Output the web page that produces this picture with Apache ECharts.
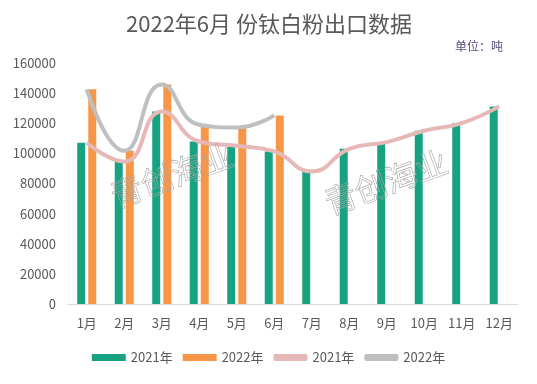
<!DOCTYPE html>
<html><head><meta charset="utf-8">
<script src="https://cdn.jsdelivr.net/npm/echarts@6/dist/echarts.min.js"></script>
<style>html,body{margin:0;padding:0;background:#fff}#c{width:537px;height:384px}</style>
</head><body><div id="c"></div>
<script>
const categories = ['1月','2月','3月','4月','5月','6月','7月','8月','9月','10月','11月','12月'];
const data2021 = [107000, 94500, 127800, 107900, 105000, 101300, 88000, 103000, 107500, 115000, 120100, 131200];
const data2022 = [142500, 101700, 145800, 119000, 117200, 125200, null, null, null, null, null, null];
const yTicks = [0, 20000, 40000, 60000, 80000, 100000, 120000, 140000, 160000];
const seriesNames = ['2021年', '2022年'];

const font = '"Microsoft YaHei","Noto Sans CJK SC",sans-serif';
const chart = echarts.init(document.getElementById('c'));
chart.setOption({
  animation: false,
  textStyle: {fontFamily: font},
  title: {
    text: '2022年6月 份钛白粉出口数据', left: 121, top: 8,
    textStyle: {fontSize: 22, fontWeight: 'normal', color: '#595959', fontFamily: font}
  },
  graphic: [
    {type: 'text', left: 455, top: 40, style: {text: '单位：吨', fontSize: 12, fill: '#5b4a7a', fontFamily: font}},
    {type: 'text', x: 172, y: 175, rotation: 20 * Math.PI / 180, z: 100,
     style: {text: '青创海业', fontSize: 32, fill: 'rgba(255,255,255,0)', stroke: '#a6a6a6', lineWidth: 0.6, align: 'center', verticalAlign: 'middle', fontFamily: font}},
    {type: 'text', x: 386, y: 182, rotation: 20 * Math.PI / 180, z: 100,
     style: {text: '青创海业', fontSize: 32, fill: 'rgba(255,255,255,0)', stroke: '#a6a6a6', lineWidth: 0.6, align: 'center', verticalAlign: 'middle', fontFamily: font}}
  ],
  legend: {
    bottom: 15, left: 'center', itemGap: 10, itemWidth: 34, itemHeight: 7,
    textStyle: {fontSize: 13, color: '#595959'},
    data: [
      {name: seriesNames[0], icon: 'rect'},
      {name: seriesNames[1], icon: 'rect'},
      {name: seriesNames[0] + ' ', icon: 'roundRect'},
      {name: seriesNames[1] + ' ', icon: 'roundRect'}
    ],
    formatter: n => n.trim()
  },
  grid: {left: 68, right: 19, top: 63, bottom: 80},
  xAxis: {
    type: 'category', data: categories,
    axisLine: {lineStyle: {color: '#d9d9d9', width: 1}},
    axisTick: {show: false},
    axisLabel: {color: '#595959', fontSize: 13, margin: 13}
  },
  yAxis: {
    type: 'value', min: yTicks[0], max: yTicks[yTicks.length - 1], interval: 20000,
    splitLine: {show: false},
    axisLine: {show: false},
    axisLabel: {color: '#595959', fontSize: 13, margin: 12, formatter: v => String(v)}
  },
  series: [
    {name: seriesNames[0], type: 'bar', data: data2021, barWidth: 8, barGap: '38%', itemStyle: {color: '#17a381'}},
    {name: seriesNames[1], type: 'bar', data: data2022, barWidth: 8, itemStyle: {color: '#f79646'}},
    {name: seriesNames[0] + ' ', type: 'line', data: data2021, smooth: 0.5, symbol: 'none', z: 5,
     lineStyle: {color: '#e6b9b8', width: 4}, itemStyle: {color: '#e6b9b8'}},
    {name: seriesNames[1] + ' ', type: 'line', data: data2022, smooth: 0.5, symbol: 'none', z: 5,
     lineStyle: {color: '#bfbfbf', width: 4}, itemStyle: {color: '#bfbfbf'}}
  ]
});
</script></body></html>
